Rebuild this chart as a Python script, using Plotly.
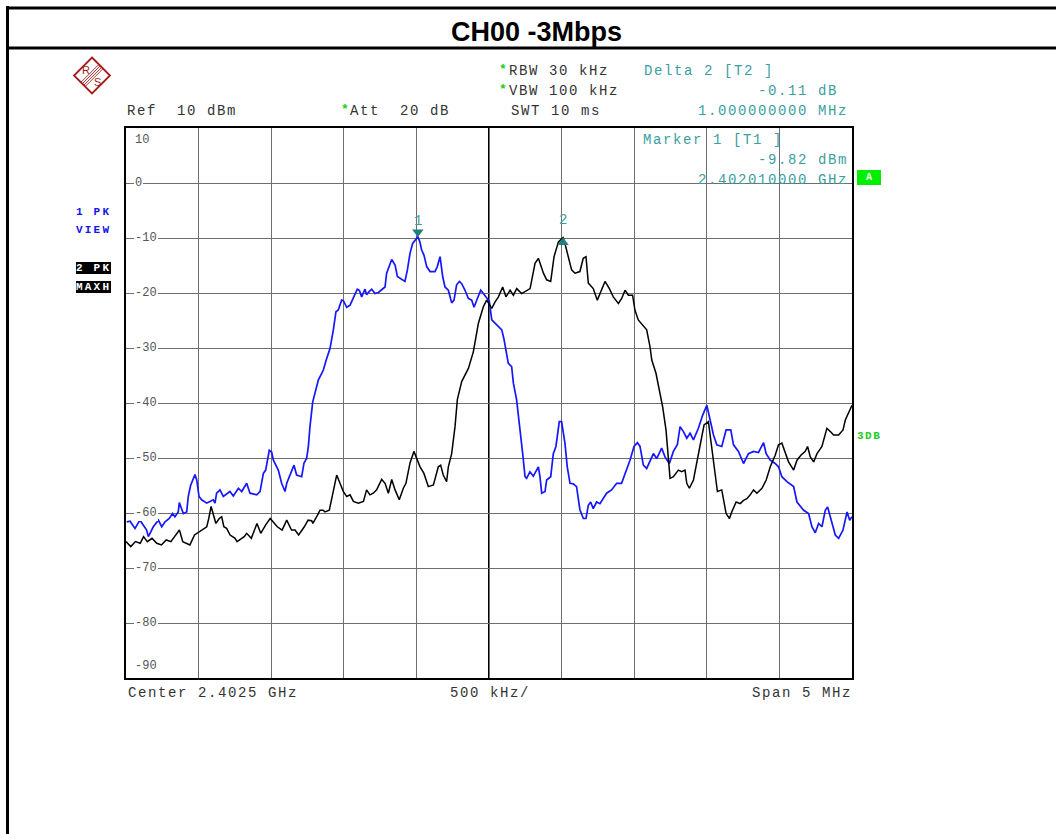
import plotly.graph_objects as go

# ---------------- data ----------------
start_mhz = 2400.0
center_mhz = 2402.5
span_mhz = 5.0
ref_level_dbm = 10
bottom_level_dbm = -90

view_offset_mhz = [
    0.005, 0.028, 0.062, 0.096, 0.142, 0.154, 0.188, 0.223, 0.246, 0.269, 0.298, 0.321, 0.337, 0.360,
    0.367, 0.395, 0.418, 0.429, 0.445, 0.468, 0.475, 0.487, 0.503, 0.521, 0.556, 0.579, 0.601, 0.613,
    0.624, 0.647, 0.670, 0.716, 0.739, 0.774, 0.797, 0.831, 0.854, 0.900, 0.923, 0.946, 0.962, 0.987,
    1.003, 1.015, 1.049, 1.072, 1.095, 1.107, 1.129, 1.157, 1.175, 1.210, 1.226, 1.244, 1.256, 1.267,
    1.286, 1.309, 1.325, 1.348, 1.359, 1.382, 1.405, 1.428, 1.446, 1.462, 1.485, 1.497, 1.520, 1.543,
    1.566, 1.593, 1.607, 1.623, 1.646, 1.657, 1.676, 1.692, 1.715, 1.738, 1.784, 1.795, 1.830, 1.853,
    1.869, 1.899, 1.921, 1.938, 1.956, 1.974, 1.995, 2.010, 2.024, 2.036, 2.052, 2.071, 2.094, 2.128,
    2.144, 2.163, 2.181, 2.197, 2.220, 2.243, 2.259, 2.277, 2.296, 2.312, 2.335, 2.358, 2.381, 2.397,
    2.420, 2.443, 2.461, 2.484, 2.502, 2.519, 2.553, 2.588, 2.604, 2.622, 2.633, 2.656, 2.668, 2.690,
    2.713, 2.732, 2.748, 2.759, 2.782, 2.805, 2.840, 2.851, 2.863, 2.886, 2.897, 2.925, 2.943, 2.961,
    2.984, 3.000, 3.023, 3.039, 3.058, 3.080, 3.103, 3.126, 3.150, 3.168, 3.184, 3.200, 3.218, 3.241,
    3.264, 3.292, 3.310, 3.344, 3.379, 3.413, 3.448, 3.471, 3.499, 3.522, 3.540, 3.563, 3.586, 3.609,
    3.632, 3.655, 3.689, 3.712, 3.742, 3.770, 3.797, 3.816, 3.839, 3.862, 3.885, 3.908, 3.942, 3.972,
    4.000, 4.018, 4.046, 4.069, 4.103, 4.133, 4.165, 4.184, 4.218, 4.253, 4.287, 4.322, 4.356, 4.391,
    4.409, 4.437, 4.471, 4.494, 4.517, 4.552, 4.598, 4.621, 4.667, 4.701, 4.724, 4.747, 4.770, 4.793,
    4.816, 4.832, 4.851, 4.869, 4.885, 4.908, 4.938, 4.966, 4.984, 5.000,
]
view_level_dbm = [
    -61.6, -61.5, -62.8, -61.3, -63.1, -64.3, -62.5, -61.3, -62.5, -61.6, -61.0, -60.1, -60.7, -59.8,
    -58.1, -60.1, -59.8, -57.0, -55.0, -53.4, -53.0, -54.0, -57.0, -57.6, -58.2, -57.9, -57.6, -58.2,
    -56.4, -55.8, -57.0, -56.1, -56.9, -55.5, -56.1, -54.6, -56.4, -56.7, -56.1, -52.8, -52.2, -48.6,
    -48.9, -50.4, -52.2, -54.6, -56.1, -54.6, -53.1, -51.3, -53.1, -53.4, -50.9, -50.1, -47.9, -44.3,
    -39.8, -37.6, -35.8, -34.6, -34.0, -31.9, -30.1, -26.7, -23.4, -23.1, -21.3, -21.4, -22.6, -22.2,
    -20.7, -19.3, -19.5, -20.7, -19.3, -20.3, -19.7, -19.3, -20.1, -19.9, -18.9, -16.4, -13.9, -14.9,
    -17.0, -17.6, -17.9, -15.8, -12.8, -11.0, -10.3, -9.82, -10.7, -12.2, -13.1, -15.2, -16.1, -16.1,
    -15.2, -13.4, -17.0, -18.9, -19.5, -21.8, -21.3, -18.5, -17.9, -18.3, -19.5, -21.0, -21.3, -22.6,
    -21.0, -19.5, -20.1, -21.0, -21.5, -24.9, -25.8, -26.7, -28.5, -30.9, -32.8, -33.4, -36.4, -39.4,
    -44.3, -49.2, -53.4, -53.7, -52.5, -53.3, -51.6, -53.4, -56.4, -56.1, -54.0, -53.4, -49.2, -47.9,
    -43.4, -43.4, -47.3, -51.6, -54.6, -54.7, -55.2, -59.4, -61.0, -61.0, -58.6, -58.0, -59.2, -58.0,
    -58.3, -57.0, -56.4, -55.8, -54.6, -54.6, -52.2, -50.4, -47.9, -47.2, -47.9, -51.3, -51.9, -50.4,
    -49.2, -50.1, -48.2, -49.8, -51.0, -48.8, -47.6, -44.3, -45.2, -46.4, -45.5, -46.7, -44.6, -42.2,
    -40.4, -42.5, -45.8, -47.6, -47.9, -44.9, -44.9, -47.6, -48.8, -51.0, -49.2, -48.8, -49.0, -47.2,
    -49.2, -50.4, -51.0, -51.6, -53.4, -54.3, -55.2, -58.0, -59.5, -60.1, -62.5, -63.6, -61.9, -62.5,
    -59.5, -58.9, -60.7, -62.2, -64.0, -64.6, -63.1, -59.8, -61.3, -60.7,
]

maxh_offset_mhz = [
    0.000, 0.033, 0.065, 0.098, 0.121, 0.147, 0.179, 0.212, 0.244, 0.277, 0.309, 0.368, 0.391, 0.440,
    0.472, 0.505, 0.537, 0.556, 0.570, 0.586, 0.603, 0.619, 0.642, 0.659, 0.674, 0.693, 0.717, 0.751,
    0.765, 0.814, 0.831, 0.863, 0.902, 0.928, 0.961, 0.993, 1.042, 1.075, 1.107, 1.140, 1.164, 1.189,
    1.228, 1.254, 1.279, 1.287, 1.319, 1.336, 1.358, 1.370, 1.400, 1.416, 1.439, 1.451, 1.474, 1.497,
    1.520, 1.543, 1.566, 1.600, 1.635, 1.657, 1.680, 1.703, 1.726, 1.761, 1.784, 1.807, 1.830, 1.853,
    1.882, 1.910, 1.928, 1.956, 1.983, 2.002, 2.025, 2.052, 2.082, 2.117, 2.151, 2.167, 2.185, 2.208,
    2.220, 2.243, 2.266, 2.282, 2.312, 2.358, 2.392, 2.427, 2.461, 2.484, 2.519, 2.542, 2.565, 2.594,
    2.617, 2.645, 2.668, 2.691, 2.725, 2.783, 2.817, 2.840, 2.875, 2.897, 2.925, 2.948, 2.978, 3.010,
    3.023, 3.046, 3.069, 3.092, 3.126, 3.149, 3.168, 3.184, 3.218, 3.246, 3.264, 3.299, 3.329, 3.356,
    3.391, 3.414, 3.437, 3.460, 3.489, 3.505, 3.528, 3.563, 3.586, 3.609, 3.621, 3.650, 3.673, 3.696,
    3.719, 3.735, 3.747, 3.770, 3.804, 3.827, 3.850, 3.862, 3.880, 3.908, 3.931, 3.954, 3.981, 4.011,
    4.034, 4.057, 4.073, 4.103, 4.133, 4.156, 4.172, 4.202, 4.230, 4.253, 4.276, 4.299, 4.322, 4.345,
    4.380, 4.409, 4.437, 4.471, 4.494, 4.517, 4.540, 4.563, 4.598, 4.621, 4.648, 4.678, 4.694, 4.713,
    4.736, 4.759, 4.793, 4.827, 4.851, 4.873, 4.908, 4.938, 4.954, 4.977, 5.000,
]
maxh_level_dbm = [
    -65.2, -66.1, -65.2, -65.5, -64.3, -65.2, -64.6, -65.5, -65.8, -64.9, -65.2, -63.1, -65.2, -65.8,
    -64.0, -63.4, -62.8, -62.5, -61.0, -58.8, -60.4, -61.9, -61.0, -60.7, -62.5, -62.8, -64.0, -64.6,
    -65.2, -64.3, -63.7, -64.6, -61.9, -63.7, -62.2, -61.0, -62.5, -63.1, -61.3, -63.1, -63.1, -64.0,
    -62.5, -61.3, -61.4, -61.9, -60.4, -59.5, -59.5, -59.8, -59.5, -57.6, -54.6, -53.1, -54.6, -56.1,
    -57.0, -56.7, -57.9, -58.2, -57.9, -55.8, -56.7, -56.4, -55.8, -53.9, -54.6, -56.4, -53.9, -55.8,
    -57.6, -55.5, -54.6, -50.9, -48.8, -50.0, -51.6, -52.8, -55.2, -54.9, -51.6, -51.3, -53.1, -54.3,
    -51.6, -49.2, -44.3, -39.4, -36.1, -33.7, -30.7, -25.5, -22.5, -21.3, -22.8, -21.6, -20.7, -18.9,
    -20.7, -19.5, -20.4, -19.2, -20.1, -19.2, -14.6, -13.7, -16.4, -17.6, -17.9, -13.4, -10.7, -9.93,
    -11.0, -13.4, -15.8, -16.4, -16.1, -13.7, -13.4, -18.2, -19.2, -21.3, -20.1, -17.9, -19.2, -20.7,
    -21.9, -21.0, -19.5, -20.4, -20.4, -23.1, -24.9, -26.1, -26.7, -29.8, -32.2, -34.6, -37.6, -40.7,
    -44.9, -50.4, -53.7, -53.4, -52.2, -52.5, -52.2, -54.6, -55.5, -54.0, -51.0, -47.6, -44.0, -43.4,
    -47.9, -52.8, -56.1, -55.8, -60.1, -61.0, -59.8, -58.0, -58.3, -57.7, -57.4, -56.7, -55.8, -56.4,
    -55.5, -54.0, -51.6, -49.5, -47.6, -47.3, -49.2, -50.7, -52.2, -50.4, -49.5, -48.8, -47.9, -49.8,
    -50.7, -49.2, -47.9, -44.6, -45.2, -45.8, -45.8, -44.9, -43.1, -41.9, -40.4,
]

marker_freq_mhz = [2402.01, 2403.01]
marker_level_dbm = [-9.82, -9.93]
marker_names = ["1", "2"]

level_ticks = [10, 0, -10, -20, -30, -40, -50, -60, -70, -80, -90]

# ---------------- layout helpers ----------------
W, H = 1056, 834
L, R, T, B = 126, 852, 128, 678  # plot area in page pixels


def px(x):
    return (x - L) / (R - L)


def py(y):
    return (B - y) / (B - T)


MONO = "Liberation Mono"
TEAL = "#3b9e9e"
TEAL_MK = "#1f7f7f"
GRID = "#6e6e6e"

fig = go.Figure()

fig.add_trace(go.Scatter(
    x=[start_mhz + o for o in view_offset_mhz], y=view_level_dbm, mode="lines",
    line=dict(color="#1616ff", width=1.7), hoverinfo="skip", showlegend=False))
fig.add_trace(go.Scatter(
    x=[start_mhz + o for o in maxh_offset_mhz], y=maxh_level_dbm, mode="lines",
    line=dict(color="#000000", width=1.5), hoverinfo="skip", showlegend=False))

# marker triangles (shifted axes so tip touches the trace)
fig.add_trace(go.Scatter(
    x=[marker_freq_mhz[0]], y=[marker_level_dbm[0]], yaxis="y2", mode="markers",
    marker=dict(symbol="triangle-down", size=10, color=TEAL_MK), hoverinfo="skip", showlegend=False))
fig.add_trace(go.Scatter(
    x=[marker_freq_mhz[1]], y=[marker_level_dbm[1]], yaxis="y3", mode="markers",
    marker=dict(symbol="triangle-up", size=10, color=TEAL_MK), hoverinfo="skip", showlegend=False))

shift = 5 / 5.5
axis_common = dict(showgrid=True, gridcolor=GRID, gridwidth=1, showticklabels=False, ticks="",
                   zeroline=False, showline=True, mirror=True, linecolor="black", linewidth=2,
                   fixedrange=True)
fig.update_layout(
    width=W, height=H, autosize=False,
    margin=dict(l=L, r=W - R, t=T, b=H - B, pad=0),
    paper_bgcolor="white", plot_bgcolor="white",
    xaxis=dict(range=[start_mhz, start_mhz + span_mhz], tick0=start_mhz, dtick=span_mhz / 10, **axis_common),
    yaxis=dict(range=[bottom_level_dbm, ref_level_dbm], tick0=0, dtick=10, **axis_common),
    yaxis2=dict(range=[bottom_level_dbm - shift, ref_level_dbm - shift], overlaying="y", visible=False, fixedrange=True),
    yaxis3=dict(range=[bottom_level_dbm + shift, ref_level_dbm + shift], overlaying="y", visible=False, fixedrange=True),
    showlegend=False,
)

# center frequency line
fig.add_shape(type="line", xref="x", yref="paper", x0=center_mhz, x1=center_mhz, y0=0, y1=1,
              line=dict(color="black", width=2), layer="between")

# outer frame
for (x0, y0, x1, y1) in [(7.5, 6, 7.5, 840), (6, 8, 1070, 8), (6, 48, 1070, 48)]:
    fig.add_shape(type="line", xref="paper", yref="paper", x0=px(x0), y0=py(y0), x1=px(x1), y1=py(y1),
                  line=dict(color="black", width=3), layer="above")

# R&S logo
cx, cy, hd = 92, 75.5, 18
pts = [(cx, cy - hd), (cx + hd, cy), (cx, cy + hd), (cx - hd, cy)]
path = "M " + " L ".join(f"{px(a)},{py(b)}" for a, b in pts) + " Z"
fig.add_shape(type="path", xref="paper", yref="paper", path=path,
              line=dict(color="#a31b1b", width=1.8), layer="above")
for off in (-3.0, -1.0, 1.0, 3.0):
    ox, oy = off * 0.707, off * 0.707
    fig.add_shape(type="line", xref="paper", yref="paper",
                  x0=px(cx + 9 + ox), y0=py(cy - 9 + oy), x1=px(cx - 9 + ox), y1=py(cy + 9 + oy),
                  line=dict(color="#a31b1b", width=0.9), layer="above")


def txt(x, y, s, size=14, color="#333333", anchor="left", bold=False, spacing=1.6, bg=None,
        family=MONO, yanchor="middle"):
    s = s.replace(" ", "\u00a0")
    if spacing:
        s = f'<span style="letter-spacing:{spacing}px">{s}</span>'
    if bold:
        s = f"<b>{s}</b>"
    fig.add_annotation(xref="paper", yref="paper", x=px(x), y=py(y), text=s, showarrow=False,
                       xanchor=anchor, yanchor=yanchor, font=dict(family=family, size=size, color=color),
                       bgcolor=bg, borderpad=0, borderwidth=0)


txt(86, 70, "R", size=11, color="#a31b1b", spacing=0, family="Liberation Sans", anchor="center")
txt(97.5, 81.5, "S", size=11, color="#a31b1b", spacing=0, family="Liberation Sans", anchor="center")

# title
txt(536, 32, "CH00 -3Mbps", size=27, color="black", bold=True, spacing=0,
    family="Liberation Sans", anchor="center")

# header
GREEN = "#22cc22"
txt(127, 111, "Ref  10 dBm")
txt(341, 109, "*", size=13, color=GREEN, bold=True, spacing=0)
txt(350, 111, "Att  20 dB")
txt(499, 69, "*", size=13, color=GREEN, bold=True, spacing=0)
txt(509, 71, "RBW 30 kHz")
txt(499, 89, "*", size=13, color=GREEN, bold=True, spacing=0)
txt(509, 91, "VBW 100 kHz")
txt(511, 111, "SWT 10 ms")
txt(644, 71, "Delta 2 [T2 ]", color=TEAL)
txt(838, 91, "-0.11 dB", color=TEAL, anchor="right")
txt(848, 111, "1.000000000 MHz", color=TEAL, anchor="right")
txt(643, 140, "Marker 1 [T1 ]", color=TEAL)
txt(848, 160, "-9.82 dBm", color=TEAL, anchor="right")
txt(848, 180, "2.402010000 GHz", color=TEAL, anchor="right")

# trace labels
txt(76, 212, "1 PK", size=11, color="#1414ee", bold=True, spacing=2.2)
txt(76, 230, "VIEW", size=11, color="#1414ee", bold=True, spacing=2.2)
txt(76, 268, "2 PK", size=11, color="white", bold=True, spacing=2.2, bg="black")
txt(76, 287, "MAXH", size=11, color="white", bold=True, spacing=2.2, bg="black")

# A box and 3DB
fig.add_shape(type="rect", xref="paper", yref="paper", x0=px(857), x1=px(881), y0=py(185), y1=py(170),
              fillcolor="#00ee00", line=dict(width=0), layer="above")
txt(869, 177.5, "A", size=10, color="white", bold=True, spacing=0, anchor="center")
txt(857, 436, "3DB", size=11, color=GREEN, bold=True, spacing=1.5)

# footer
txt(128, 693, "Center 2.4025 GHz")
txt(450, 693, "500 kHz/")
txt(852, 693, "Span 5 MHz", anchor="right")

# level labels inside the grid
for v in level_ticks:
    ys = 0
    if v == ref_level_dbm:
        ys = -12
    elif v == bottom_level_dbm:
        ys = 12
    fig.add_annotation(xref="paper", yref="y", x=px(134), y=v, yshift=ys, text=str(v), showarrow=False,
                       xanchor="left", yanchor="middle", bgcolor="white", borderpad=1, borderwidth=0,
                       font=dict(family=MONO, size=12, color="#555555"))

# marker numbers
for f, lv, name, ys in zip(marker_freq_mhz, marker_level_dbm, marker_names, [16, 17.5]):
    fig.add_annotation(xref="x", yref="y", x=f, y=lv, yshift=ys, text=name, showarrow=False,
                       xanchor="center", yanchor="middle", font=dict(family=MONO, size=14, color=TEAL))

fig.write_html("out.html", config={"displayModeBar": False},
               post_script="document.body.style.margin='0';document.body.style.overflow='hidden';")
